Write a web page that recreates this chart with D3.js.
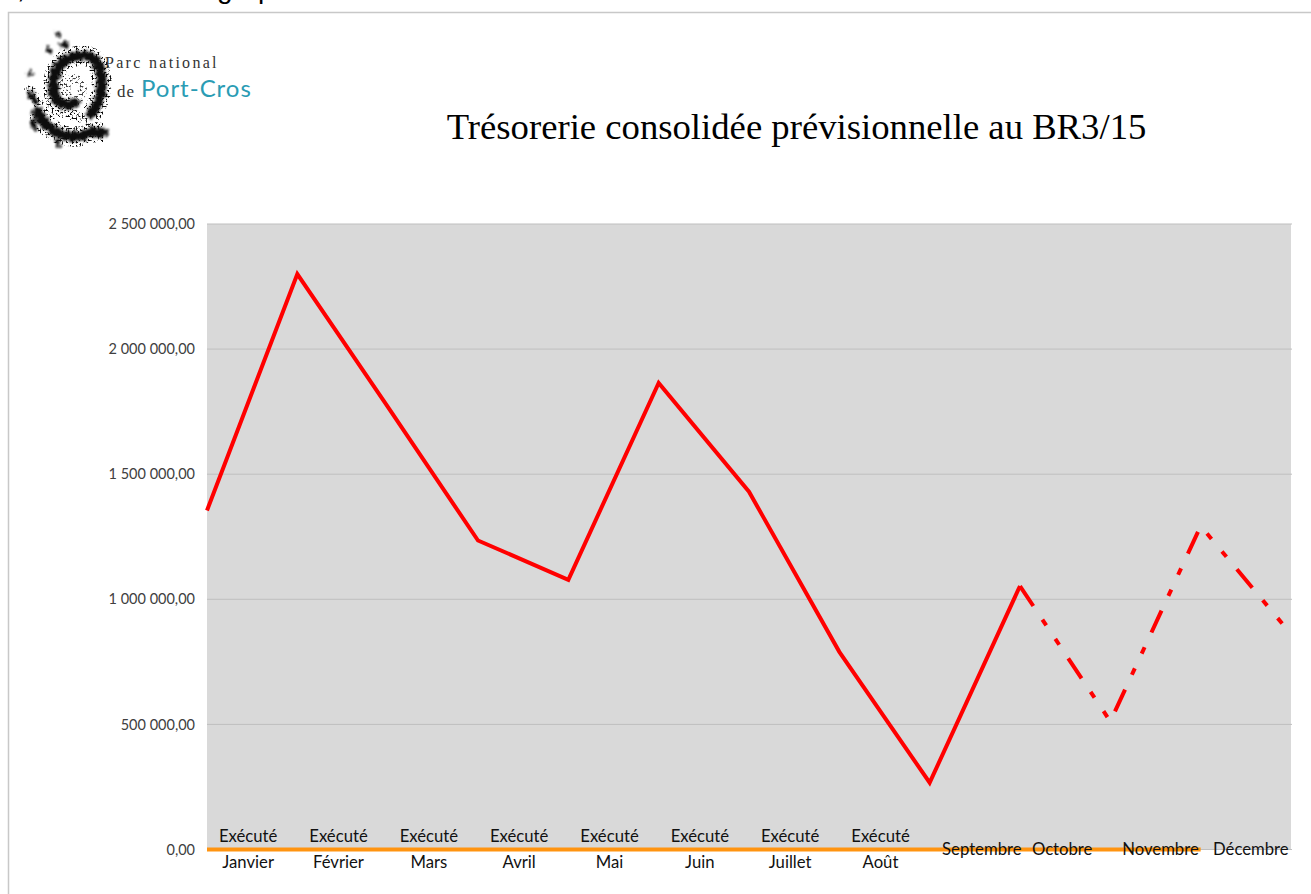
<!DOCTYPE html>
<html>
<head>
<meta charset="utf-8">
<script src="https://cdn.jsdelivr.net/npm/d3@7"></script>
<style>
html, body { margin: 0; padding: 0; background: #fff; overflow: hidden; }
svg { display: block; }
.tick text { font-family: Lato, sans-serif; font-size: 14.5px; fill: #404040; }
</style>
</head>
<body>
<div id="chart"></div>
<script>
// Donnees
const months = ["Janvier", "Février", "Mars", "Avril", "Mai", "Juin", "Juillet", "Août", "Septembre", "Octobre", "Novembre", "Décembre"];
const status = ["Exécuté", "Exécuté", "Exécuté", "Exécuté", "Exécuté", "Exécuté", "Exécuté", "Exécuté", "", "", "", ""];
const steps = ["d0", "d1", "d2", "d3", "d4", "d5", "d6", "d7", "d8", "d9", "d10", "d11", "d12"];
const executed = [1355000, 2300000, 1770000, 1235000, 1078000, 1865000, 1430000, 790000, 267000, 1053000];
const forecast = [1053000, 512000, 1293000, 861000];
const zeroLine = [0, 0, 0, 0, 0, 0, 0, 0, 0, 0, 0, 0];
const yTicks = [0, 500000, 1000000, 1500000, 2000000, 2500000];

const W = 1311, H = 894;
const plot = {left: 207, right: 1291, top: 224, bottom: 849.5};

const svg = d3.select("#chart").append("svg").attr("width", W).attr("height", H);

// Cadre de la diapo
svg.append("path")
    .attr("d", `M8.5,${H} V12.5 H${W}`)
    .attr("fill", "none").attr("stroke", "#c8c8c8").attr("stroke-width", 1.5);

// Texte coupe en haut de la page
const topText = svg.append("g").attr("font-family", "Liberation Sans").attr("font-size", 28).attr("fill", "#000");
topText.append("text").attr("x", 17).attr("y", -2).text(",");
topText.append("text").attr("x", 217).attr("y", -2).text("g");
topText.append("text").attr("x", 258).attr("y", -2).text("p");

// Logo
const defs = svg.append("defs");
const rough = defs.append("filter").attr("id", "rough")
    .attr("x", "-30%").attr("y", "-30%").attr("width", "160%").attr("height", "160%");
rough.append("feTurbulence").attr("type", "fractalNoise").attr("baseFrequency", 0.3)
    .attr("numOctaves", 2).attr("seed", 7).attr("result", "n");
rough.append("feDisplacementMap").attr("in", "SourceGraphic").attr("in2", "n").attr("result", "d")
    .attr("scale", 8).attr("xChannelSelector", "R").attr("yChannelSelector", "G");
rough.append("feGaussianBlur").attr("in", "d").attr("stdDeviation", 0.8);

// halo pointille autour de la spirale
const speck = defs.append("filter").attr("id", "speck")
    .attr("x", "-30%").attr("y", "-30%").attr("width", "160%").attr("height", "160%");
speck.append("feTurbulence").attr("type", "fractalNoise").attr("baseFrequency", 0.5)
    .attr("numOctaves", 2).attr("seed", 11).attr("result", "n");
speck.append("feColorMatrix").attr("in", "n").attr("type", "matrix")
    .attr("values", "0 0 0 0 0  0 0 0 0 0  0 0 0 0 0  0 0 0 9 -4.6").attr("result", "t");
speck.append("feComposite").attr("in", "SourceGraphic").attr("in2", "t").attr("operator", "in").attr("result", "c");
speck.append("feGaussianBlur").attr("in", "c").attr("stdDeviation", 0.7);

const spiral = [
    "M75,103 C68,106 60,105 56,99 C52,92 53,80 55,74 C58,64 66,58 77,56 C90,54 98,60 100,70 C104,84 101,102 91,114",
    "M37,112 C42,122 50,130 62,135 C72,138 84,136 93,132 C97,132 100,133 103,133"
];
const logoHalo = svg.append("g").attr("filter", "url(#speck)").attr("fill", "none").attr("stroke", "#111");
logoHalo.selectAll("path").data(spiral).join("path").attr("d", d => d).attr("stroke-width", 20);
logoHalo.append("path").attr("d", "M28,86 L40,106 M45,108 L90,120").attr("stroke-width", 10);
logoHalo.append("path").attr("d", "M70,80 C78,76 84,84 82,92 C80,98 76,102 72,103 M66,78 L66,98")
    .attr("stroke", "#444").attr("stroke-width", 9);

const logo = svg.append("g").attr("filter", "url(#rough)").attr("fill", "none").attr("stroke", "#111").attr("stroke-linecap", "round");
logo.selectAll("path").data(spiral).join("path").attr("d", d => d).attr("stroke-width", 10);
logo.append("path")
    .attr("d", "M48,49 L49,51 M62,45 L66,45 M58,34 L58,35 M30,73 L30,74 M30,94 L36,102 M33,120 L35,128 M57,141 L58,145")
    .attr("stroke-width", 5);

svg.append("text").attr("x", 105).attr("y", 68)
    .attr("font-family", "Liberation Serif").attr("font-size", 16).attr("letter-spacing", 2.3)
    .attr("fill", "#333").text("Parc national");
svg.append("text").attr("x", 117).attr("y", 97)
    .attr("font-family", "Liberation Serif").attr("font-size", 17).attr("letter-spacing", 1)
    .attr("fill", "#333").text("de");
svg.append("text").attr("x", 141).attr("y", 97)
    .attr("font-family", "Lato").attr("font-size", 24).attr("letter-spacing", 1)
    .attr("fill", "#2a9cb4").text("Port-Cros");

// Titre
svg.append("text").attr("x", 796.5).attr("y", 139).attr("text-anchor", "middle")
    .attr("font-family", "Liberation Serif").attr("font-size", 36.7).attr("fill", "#000")
    .text("Trésorerie consolidée prévisionnelle au BR3/15");

// Echelles
const x = d3.scalePoint().domain(steps).range([plot.left, plot.right]);
const xBand = d3.scaleBand().domain(months).range([plot.left, plot.right]);
const y = d3.scaleLinear().domain([0, 2500000]).range([plot.bottom, plot.top]);

svg.append("rect")
    .attr("x", plot.left).attr("y", plot.top)
    .attr("width", plot.right - plot.left).attr("height", plot.bottom - plot.top)
    .attr("fill", "#d9d9d9");

const frNum = v => {
    const parts = d3.format(".2f")(v).split(".");
    return parts[0].replace(/\B(?=(\d{3})+$)/g, " ") + "," + parts[1];
};

const yAxis = d3.axisLeft(y).tickValues(yTicks).tickFormat(frNum).tickSize(0).tickPadding(12);
svg.append("g").attr("transform", `translate(${plot.left},0)`).call(yAxis)
    .call(g => g.select(".domain").remove());

// Grille
svg.append("g").selectAll("line").data(yTicks).join("line")
    .attr("x1", plot.left).attr("x2", plot.right + 1)
    .attr("y1", d => y(d)).attr("y2", d => y(d))
    .attr("stroke", "#bfbfbf").attr("stroke-width", 1);

const line = d3.line().x(d => x(d.k)).y(d => y(d.v));

// Ligne orange du zero
svg.append("path")
    .datum(zeroLine.map((v, i) => ({k: steps[i], v: v})))
    .attr("d", line).attr("fill", "none")
    .attr("stroke", "#ff9410").attr("stroke-width", 4);

// Realise
svg.append("path")
    .datum(executed.map((v, i) => ({k: steps[i], v: v})))
    .attr("d", line).attr("fill", "none")
    .attr("stroke", "#ff0000").attr("stroke-width", 4).attr("stroke-linejoin", "miter");

// Previsionnel
svg.append("path")
    .datum(forecast.map((v, i) => ({k: steps[i + 9], v: v})))
    .attr("d", line).attr("fill", "none")
    .attr("stroke", "#ff0000").attr("stroke-width", 4)
    .attr("stroke-dasharray", "24 16.3 7 16.3 7 16.3");

// Libelles des mois (decales a la main comme sur la diapo)
const monthShift = {Septembre: 7, Octobre: -3, Novembre: 5, "Décembre": 5};
const labels = svg.append("g").attr("font-family", "Lato, sans-serif").attr("font-size", 16.7).attr("fill", "#111").attr("text-anchor", "middle");
labels.selectAll("text.m").data(months).join("text").attr("class", "m")
    .attr("x", d => xBand(d) + xBand.bandwidth() / 2 + (monthShift[d] !== undefined ? monthShift[d] : -4))
    .attr("y", (d, i) => status[i] ? 868 : 855)
    .text(d => d);
labels.selectAll("text.s").data(months.filter((d, i) => status[i])).join("text").attr("class", "s")
    .attr("x", d => xBand(d) + xBand.bandwidth() / 2 - 4)
    .attr("y", 842)
    .text((d, i) => status[i]);
</script>
</body>
</html>
